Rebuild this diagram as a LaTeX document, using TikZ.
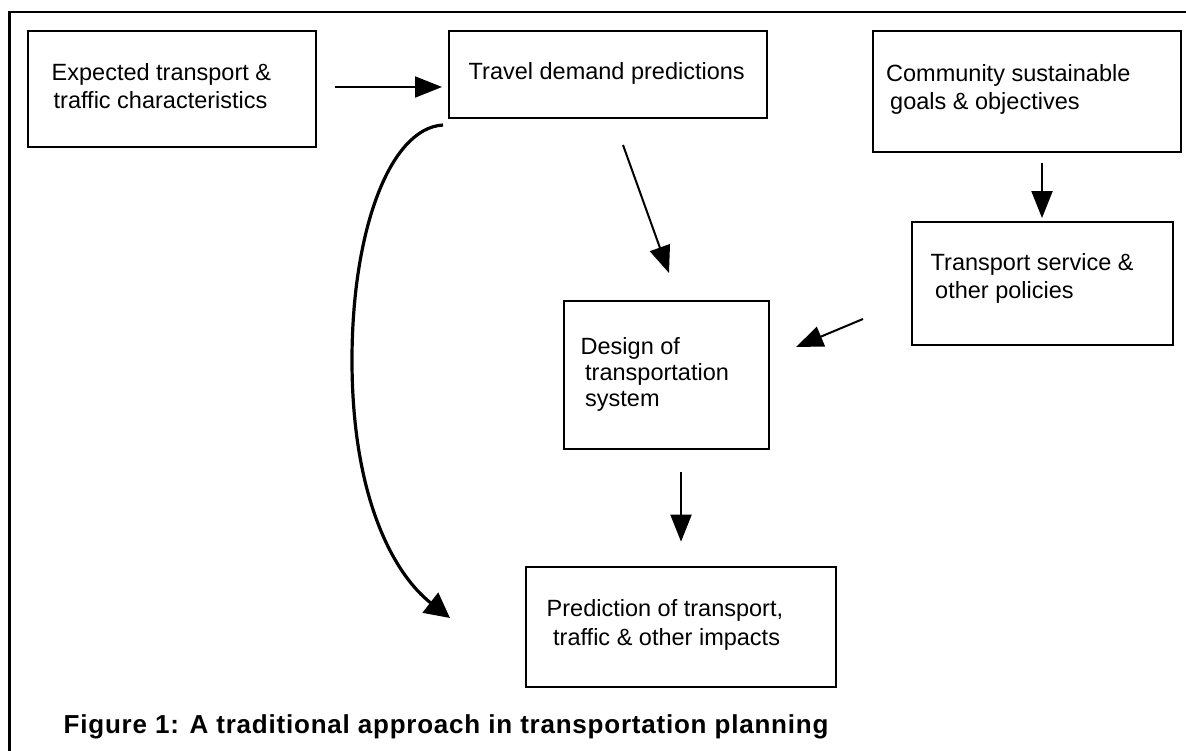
\documentclass[tikz,border=0pt]{standalone}
\usepackage{fontspec}
\setmainfont{Liberation Sans}
\newfontfamily\capfont[LetterSpace=3]{Liberation Sans}
\usetikzlibrary{arrows.meta,calc}
\begin{document}
\begin{tikzpicture}[x=1pt,y=-1pt,
  box/.style={draw, line width=2pt, rectangle, inner sep=0pt, outer sep=0pt},
  txt/.style={anchor=base west, inner sep=0pt, font=\fontsize{23.5}{29}\selectfont},
  arr/.style={line width=2pt, -{Triangle[length=27pt,width=21pt]}},
  carr/.style={line width=3.2pt, -{Triangle[length=25pt,width=25pt]}},
  frame/.style={line width=2.5pt}]
\useasboundingbox (0,0) rectangle (1186,751);
% frame (top and left)
\draw[frame] (9.5,751) -- (9.5,12) -- (1186,12);
% boxes
\node[box, minimum width=288.5pt, minimum height=116.5pt] (b1) at (171.75,89.25) {};
\node[box, minimum width=318pt, minimum height=87pt] (b2) at (608,74.8) {};
\node[box, minimum width=308pt, minimum height=120.7pt] (b3) at (1026.7,91.3) {};
\node[box, minimum width=261.6pt, minimum height=122.7pt] (b4) at (1042.5,283.7) {};
\node[box, minimum width=205.3pt, minimum height=148.6pt] (b5) at (666.7,375) {};
\node[box, minimum width=310pt, minimum height=120pt] (b6) at (681,627.3) {};
% texts
\node[txt] (t1a) at (51.5,81) {Expected transport \&};
\node[txt] (t1b) at (53.5,109) {traffic characteristics};
\node[txt] (t2) at (468.5,80) {Travel demand predictions};
\node[txt] (t3a) at (886,82) {Community sustainable};
\node[txt] (t3b) at (890,109.5) {goals \& objectives};
\node[txt] (t4a) at (930.5,270.5) {Transport service \&};
\node[txt] (t4b) at (935,299) {other policies};
\node[txt] (t5a) at (580.5,354) {Design of};
\node[txt] (t5b) at (585,380.5) {transportation};
\node[txt] (t5c) at (585,406.5) {system};
\node[txt] (t6a) at (546.5,616.7) {Prediction of transport,};
\node[txt] (t6b) at (553,645.5) {traffic \& other impacts};
% caption
\node[anchor=base west, inner sep=0pt, font=\capfont\bfseries\fontsize{26}{31}\selectfont] (cap) at (63.5,733) {Figure 1: A traditional approach in transportation planning};
% connectors
\draw[arr] ([shift={(19,-2.25)}]b1.east) -- ([shift={(-7,12.2)}]b2.west);
\draw[arr] ([shift={(15.3,11.3)}]b3.south) -- ([shift={(-0.5,-4.3)}]b4.north);
\draw[arr] ([shift={(-48.7,35.3)}]b4.west) -- ([shift={(26.7,-28)}]b5.east);
\draw[arr] ([shift={(15,26.7)}]b2.south) -- ([shift={(2.3,-27.7)}]b5.north);
\draw[arr] ([shift={(14.3,22.7)}]b5.south) -- ([shift={(0,-25.6)}]b6.north);
\coordinate (cs) at ([shift={(-6,6.7)}]b2.south west);
\coordinate (cm) at (352,360);
\coordinate (ce) at ([shift={(-76,-9.3)}]b6.west);
\draw[carr] (cs) .. controls +(-53,3) and +(0,-130) .. (cm) .. controls +(0,140) and +(-55,-43) .. (ce);
\end{tikzpicture}
\end{document}
